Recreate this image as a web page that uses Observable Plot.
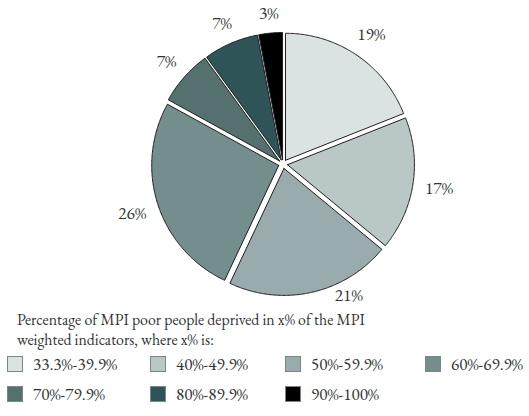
<!DOCTYPE html>
<html><head><meta charset="utf-8">
<script src="https://cdn.jsdelivr.net/npm/d3@7"></script>
<script src="https://cdn.jsdelivr.net/npm/@observablehq/plot@0.6"></script>
<style>
body{margin:0;background:#fff;color:#333;}
#wrap{position:relative;width:529px;height:416px;overflow:hidden;font-family:'EB Garamond','Liberation Serif',serif;}
#chart{position:absolute;left:0;top:0;}
#title{position:absolute;left:17px;top:0;white-space:nowrap;color:#333;font-family:'EB Garamond','Liberation Serif',serif;}
.tl{position:absolute;left:0;transform:translateY(-50%);line-height:1;}
.item{position:absolute;height:18px;line-height:18px;transform:translateY(-50%);display:flex;align-items:center;color:#333;white-space:nowrap;font-family:'EB Garamond','Liberation Serif',serif;}
.sw{width:16px;height:16px;box-sizing:border-box;border:1px solid #7b8787;margin-right:10px;flex:none;}
</style></head><body>
<div id="wrap"><div id="chart"></div><div id="title"></div><div id="legend"></div></div>
<script>
const categories = ["33.3%-39.9%","40%-49.9%","50%-59.9%","60%-69.9%","70%-79.9%","80%-89.9%","90%-100%"];
const shares = [19,17,21,26,7,7,3];
const sliceLabels = ["19%","17%","21%","26%","7%","7%","3%"];
const colors = ["#dbe3e2","#b9c7c6","#99abac","#738e8d","#54706f","#2e5457","#000000"];
const titleLines = ["Percentage of MPI poor people deprived in x% of the MPI","weighted indicators, where x% is:"];

const FAMILY = "'EB Garamond', 'Liberation Serif', serif";
const ctx = document.createElement("canvas").getContext("2d");
const textW = (t, size) => { ctx.font = `${size}px ${FAMILY}`; return ctx.measureText(t).width; };
const fit = (t, target) => 100 * target / textW(t, 100);
const titleSize = fit(titleLines[0], 348);
const legendSize = (fit("50%-59.9%", 72) + fit("33.3%-39.9%", 84)) / 2;
const labelSize = fit("19%", 28);

const W = 529, H = 305, cx = 282.5, cy = 163.5, R = 127, explode = 4.5, gap = 16, labelMaxY = 295;
const arcs = d3.pie().sort(null).value(d => d)(shares);
const pt = (a, r, ox, oy) => [ox + r * Math.sin(a), oy - r * Math.cos(a)];
const rows = [];
const labelRows = [];
arcs.forEach((a, i) => {
  const mid = (a.startAngle + a.endAngle) / 2;
  const [ox, oy] = pt(mid, explode, cx, cy);
  const cat = categories[i];
  rows.push({cat, x: ox, y: oy});
  const n = Math.max(4, Math.ceil((a.endAngle - a.startAngle) / 0.01));
  for (let k = 0; k <= n; k++) {
    const t = a.startAngle + (a.endAngle - a.startAngle) * k / n;
    const [x, y] = pt(t, R, ox, oy);
    rows.push({cat, x, y});
  }
  rows.push({cat, x: ox, y: oy});
  const halfW = textW(sliceLabels[i], labelSize) / 2, halfH = labelSize * 0.42;
  const lr = R + gap + halfW * Math.abs(Math.sin(mid)) + halfH * Math.abs(Math.cos(mid));
  let [lx, ly] = pt(mid, lr, cx, cy);
  if (ly > labelMaxY) {
    const r2 = R + 20, dy = labelMaxY - cy;
    const side = Math.sign(Math.sin(mid)) || 1;
    lx = cx + side * Math.sqrt(Math.max(0, r2 * r2 - dy * dy));
    ly = labelMaxY;
  }
  labelRows.push({x: lx, y: ly, text: sliceLabels[i]});
});

const plot = Plot.plot({
  width: W, height: H,
  marginTop: 0, marginBottom: 0, marginLeft: 0, marginRight: 0,
  x: {domain: [0, W], range: [0, W], axis: null},
  y: {domain: [0, H], range: [0, H], axis: null},
  color: {domain: categories, range: colors},
  style: {fontFamily: FAMILY, background: "white"},
  marks: [
    Plot.line(rows, {x: "x", y: "y", z: "cat", fill: "cat", stroke: "#1e1e1e", strokeWidth: 1, strokeLinejoin: "round"}),
    Plot.text(labelRows, {x: "x", y: "y", text: "text", fontSize: labelSize, fill: "#333", textAnchor: "middle", fontFamily: FAMILY})
  ]
});
document.getElementById("chart").appendChild(plot);

const title = document.getElementById("title");
title.style.fontSize = titleSize + "px";
const titleY = [320, 340];
titleLines.forEach((t, i) => {
  const d = document.createElement("div");
  d.className = "tl";
  d.style.top = titleY[i] + "px";
  d.textContent = t;
  title.appendChild(d);
});

const legend = document.getElementById("legend");
const colX = [7, 150, 285, 425];
const rowY = [364, 394];
categories.forEach((c, i) => {
  const d = document.createElement("div");
  d.className = "item";
  d.style.left = colX[i % 4] + "px";
  d.style.top = rowY[Math.floor(i / 4)] + "px";
  d.style.fontSize = legendSize + "px";
  const sw = document.createElement("div");
  sw.className = "sw";
  sw.style.background = colors[i];
  d.appendChild(sw);
  const s = document.createElement("span");
  s.textContent = c;
  d.appendChild(s);
  legend.appendChild(d);
});
</script></body></html>
